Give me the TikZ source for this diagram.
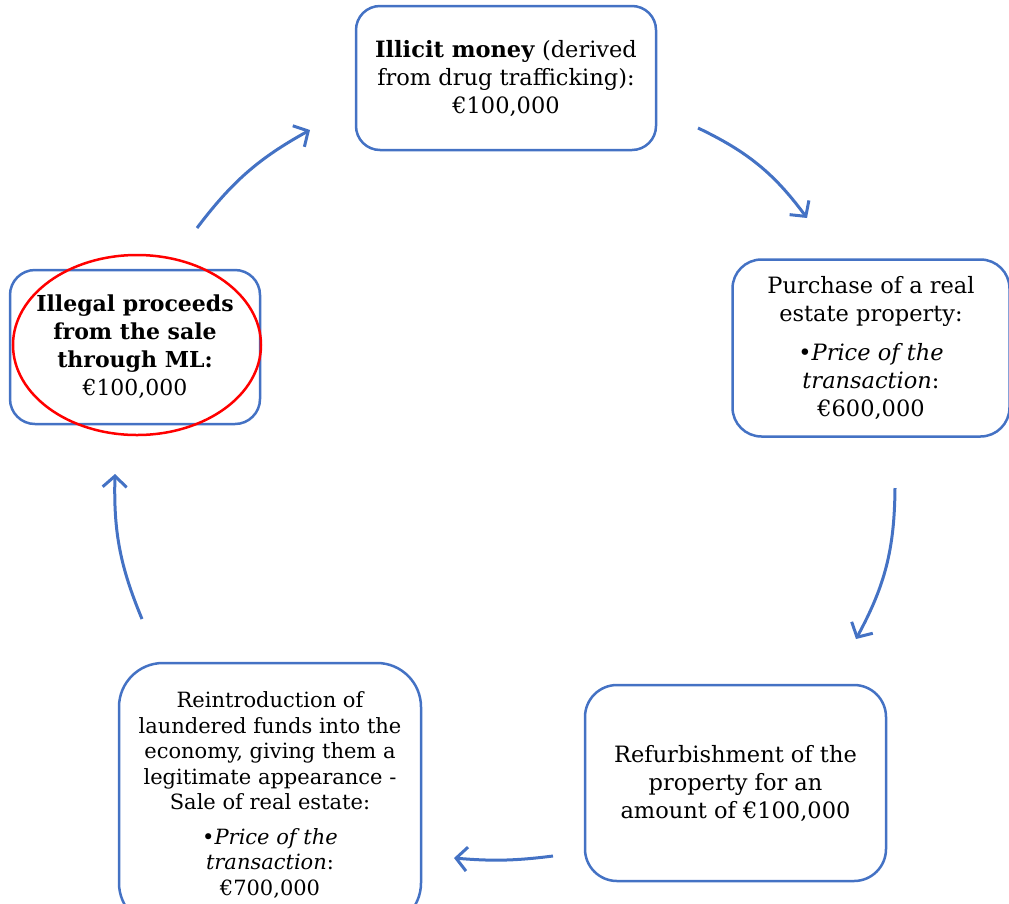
\documentclass[tikz,border=0pt]{standalone}
\usepackage{fontspec}
\setmainfont{DejaVu Serif}
\usetikzlibrary{arrows.meta,shapes.geometric}
\definecolor{boxblue}{HTML}{4472C4}
\definecolor{ringred}{HTML}{FF0000}

\begin{document}
\begin{tikzpicture}[x=1pt,y=1pt,
    stage/.style={rectangle, draw=boxblue, line width=2.5pt, align=center,
                  inner sep=0pt, font=\fontsize{22.5}{28}\selectfont},
    flow/.style={draw=boxblue, line width=3pt,
                 -{Straight Barb[length=11pt,width=24pt]}},
    ring/.style={ellipse, draw=ringred, line width=2.5pt, inner sep=0pt}]
\useasboundingbox (0,0) rectangle (1009,-903);

\node[stage, minimum width=300, minimum height=144, rounded corners=24] (money) at (506,-78)
  {\textbf{Illicit money} (derived\\from drug trafficking):\\€100,000};
\node[stage, minimum width=277, minimum height=177, rounded corners=29] (purchase) at (871,-348)
  {Purchase of a real\\estate property:\\[11pt]•\textit{Price of the}\\\textit{transaction}:\\€600,000};
\node[stage, minimum width=301, minimum height=196, rounded corners=32] (refurb) at (735.5,-783)
  {Refurbishment of the\\property for an\\amount of €100,000};
\node[stage, minimum width=302, minimum height=264, rounded corners=44,
      font=\fontsize{21}{25.5}\selectfont] (reintro) at (270,-795)
  {Reintroduction of\\laundered funds into the\\economy, giving them a\\legitimate appearance -\\Sale of real estate:\\[9pt]•\textit{Price of the}\\\textit{transaction}:\\€700,000};
\node[stage, minimum width=250, minimum height=154, rounded corners=25,
      font=\fontsize{22}{28}\selectfont] (proceeds) at (135,-347)
  {\textbf{Illegal proceeds}\\\textbf{from the sale}\\\textbf{through ML:}\\€100,000};
\node[ring, minimum width=248, minimum height=180] (mark) at (137,-345) {};

% cycle arrows
\coordinate (s1) at (698,-128); \coordinate (e1) at (807,-218);
\coordinate (s2) at (895,-488); \coordinate (e2) at (856,-639);
\coordinate (s3) at (553,-856); \coordinate (e3) at (454,-858);
\coordinate (s4) at (142,-619); \coordinate (e4) at (115,-474);
\coordinate (s5) at (197,-228); \coordinate (e5) at (310,-130);
\draw[flow] (s1) to[bend left=14] (e1);
\draw[flow] (s2) to[bend left=14] (e2);
\draw[flow] (s3) to[bend left=6] (e3);
\draw[flow] (s4) to[bend left=12] (e4);
\draw[flow] (s5) to[bend left=12] (e5);
\end{tikzpicture}
\end{document}
